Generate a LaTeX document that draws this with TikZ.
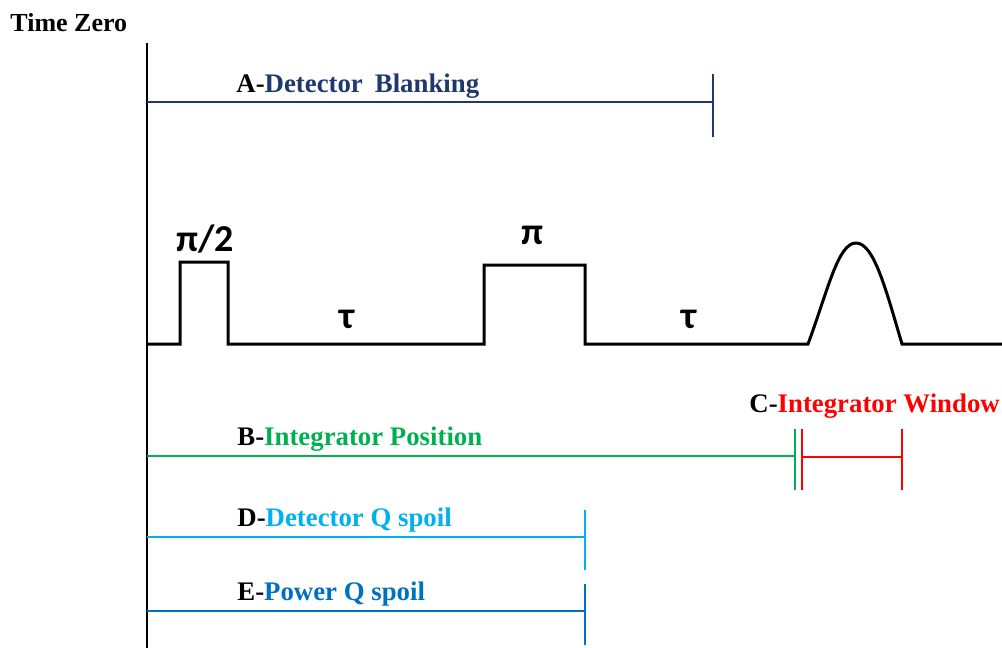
\documentclass[tikz,border=0pt]{standalone}
\usepackage{fontspec}
\setmainfont{Liberation Serif}
\newfontfamily\calib{Carlito}
\usepackage{tikz}
\usetikzlibrary{positioning,calc}
\definecolor{blanknavy}{RGB}{31,56,110}
\definecolor{intgreen}{RGB}{0,176,80}
\definecolor{intred}{RGB}{255,0,0}
\definecolor{detblue}{RGB}{0,176,240}
\definecolor{powblue}{RGB}{0,112,192}
\begin{document}
\begin{tikzpicture}[x=0.5pt,y=-0.5pt,
  every node/.style={inner sep=0pt,font=\fontsize{13.4}{15}\selectfont\bfseries},
  lbl/.style={anchor=base west},
  pulsetxt/.style={anchor=base,font=\fontsize{19}{22}\selectfont\calib\bfseries},
  sig/.style={line width=1.5pt,line join=miter},
  gate/.style={line width=1pt}]
  \useasboundingbox (0,0) rectangle (1002,648);
  % time zero
  \node[lbl,font=\fontsize{13}{15}\selectfont\bfseries] (tz) at (10,32) {Time Zero};
  \coordinate (t0top) at (147,43);
  \coordinate (t0bot) at (147,648);
  \draw[line width=1.2pt] (t0top) -- (t0bot);
  % A - detector blanking
  \node[lbl] (la) at (236,92) {A-\textcolor{blanknavy}{Detector\hspace{0.45em}Blanking}};
  \coordinate (a0) at (147,102);
  \coordinate (a1) at (713,102);
  \draw[gate,blanknavy] (a0) -- (a1);
  \draw[gate,blanknavy] ($(a1)+(0,-28)$) -- ($(a1)+(0,35)$);
  % pulse sequence
  \coordinate (s0) at (147,344);
  \coordinate (p1) at (180,344);
  \coordinate (p2) at (228,344);
  \coordinate (p3) at (484,344);
  \coordinate (p4) at (585,344);
  \coordinate (e0) at (808,344);
  \coordinate (e1) at (902,344);
  \coordinate (s1) at (1002,344);
  \draw[sig] (s0) -- (p1) -- ++(0,-82) -| (p2) -- (p3) -- ++(0,-79) -| (p4) -- (e0)
    .. controls (828,290) and (838,243) .. (856,243)
    .. controls (874,243) and (886,290) .. (e1) -- (s1);
  \node[pulsetxt] (l90) at (205,251) {π/2};
  \node[pulsetxt] (l180) at (532,244) {π};
  \node[pulsetxt] (tau1) at (347,328) {τ};
  \node[pulsetxt] (tau2) at (689,328) {τ};
  % B - integrator position
  \node[lbl] (lb) at (237,445) {B-\textcolor{intgreen}{Integrator Position}};
  \coordinate (b0) at (147,456);
  \coordinate (b1) at (795,456);
  \draw[gate,intgreen] (b0) -- (b1);
  \draw[gate,intgreen] ($(b1)+(0,-27)$) -- ($(b1)+(0,34)$);
  % C - integrator window
  \node[lbl] (lc) at (749,412) {C-\textcolor{intred}{Integrator Window}};
  \coordinate (c0) at (802,457);
  \coordinate (c1) at (902,457);
  \draw[gate,intred] (c0) -- (c1);
  \draw[gate,intred] ($(c0)+(0,-28)$) -- ($(c0)+(0,33)$);
  \draw[gate,intred] ($(c1)+(0,-28)$) -- ($(c1)+(0,33)$);
  % D - detector Q spoil
  \node[lbl] (ld) at (237,526) {D-\textcolor{detblue}{Detector Q spoil}};
  \coordinate (d0) at (147,537);
  \coordinate (d1) at (585,537);
  \draw[gate,detblue] (d0) -- (d1);
  \draw[gate,detblue] ($(d1)+(0,-27)$) -- ($(d1)+(0,33)$);
  % E - power Q spoil
  \node[lbl] (le) at (237,600) {E-\textcolor{powblue}{Power Q spoil}};
  \coordinate (q0) at (147,611);
  \coordinate (q1) at (585,611);
  \draw[gate,powblue] (q0) -- (q1);
  \draw[gate,powblue] ($(q1)+(0,-27)$) -- ($(q1)+(0,34)$);
\end{tikzpicture}
\end{document}
